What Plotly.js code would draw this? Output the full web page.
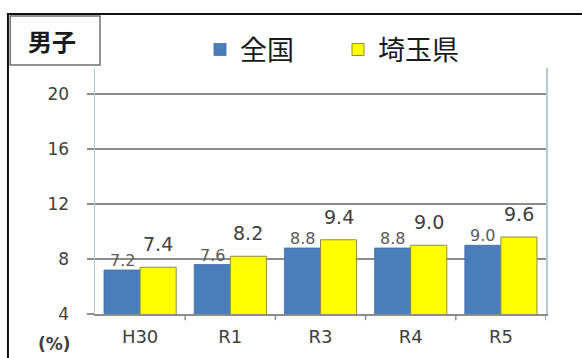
<!DOCTYPE html>
<html>
<head>
<meta charset="utf-8">
<script src="https://cdn.plot.ly/plotly-3.0.1.min.js"></script>
<style>html,body{margin:0;padding:0;background:#fff;}#chart{width:582px;height:358px;}</style>
</head>
<body>
<div id="chart"></div>
<script>
const categories = ['H30', 'R1', 'R3', 'R4', 'R5'];
const nationalName = '全国';
const saitamaName = '埼玉県';
const nationalValues = [7.2, 7.6, 8.8, 8.8, 9.0];
const saitamaValues = [7.4, 8.2, 9.4, 9.0, 9.6];
const yTicks = [4, 8, 12, 16, 20];
const panelTitle = '男子';
const unitLabel = '(%)';

const numFont = 'DejaVu Sans, Verdana, sans-serif';
const cjkFont = 'Noto Sans CJK JP, sans-serif';

const traces = [
  {type: 'bar', name: nationalName, x: categories.map((c, i) => i), y: nationalValues,
   marker: {color: '#4a7ebb', line: {color: '#3f6fa8', width: 0.8}}, hoverinfo: 'skip'},
  {type: 'bar', name: saitamaName, x: categories.map((c, i) => i), y: saitamaValues,
   marker: {color: '#ffff00', line: {color: '#8c8c40', width: 1}}, hoverinfo: 'skip'}
];

const annotations = [];
nationalValues.forEach((v, i) => {
  annotations.push({x: i - 0.2, y: v, xref: 'x', yref: 'y', text: v.toFixed(1), showarrow: false,
    yanchor: 'bottom', yshift: -2, font: {family: numFont, size: 16, color: '#595959'}});
});
saitamaValues.forEach((v, i) => {
  annotations.push({x: i + 0.2, y: v, xref: 'x', yref: 'y', text: v.toFixed(1), showarrow: false,
    yanchor: 'bottom', yshift: 10, font: {family: numFont, size: 19, color: '#404040'}});
});
annotations.push({xref: 'paper', yref: 'paper', x: -0.188, y: 1.11, xanchor: 'left', yanchor: 'middle',
  text: '<b>' + panelTitle + '</b>', showarrow: false, xshift: 16,
  font: {family: cjkFont, size: 24, color: '#1a1a1a'}});
annotations.push({xref: 'paper', yref: 'paper', x: 0, y: 0, xanchor: 'right', yanchor: 'top',
  text: '<b>' + unitLabel + '</b>', showarrow: false, xshift: -22, yshift: -18,
  font: {family: numFont, size: 17, color: '#404040'}});

const layout = {
  width: 582, height: 358,
  margin: {l: 95, r: 36, t: 68, b: 44, autoexpand: false},
  paper_bgcolor: '#ffffff', plot_bgcolor: '#ffffff',
  barmode: 'group', bargap: 0.2, bargroupgap: 0,
  showlegend: true,
  legend: {orientation: 'h', xref: 'container', yref: 'container', x: 200 / 582, y: 1 - 50 / 358,
    xanchor: 'left', yanchor: 'middle', entrywidth: 93,
    font: {family: cjkFont, size: 27, color: '#1a1a1a'}, traceorder: 'normal',
    bgcolor: 'rgba(0,0,0,0)'},
  xaxis: {
    type: 'linear', range: [-0.5, 4.5], tickvals: categories.map((c, i) => i), ticktext: categories,
    showgrid: false, zeroline: false, showline: true, linecolor: '#8c8c8c', linewidth: 1.5,
    ticks: '', tickfont: {family: numFont, size: 18, color: '#404040'}, ticklabelstandoff: 6,
    fixedrange: true
  },
  yaxis: {
    range: [4, 21.9], tickvals: yTicks, ticktext: yTicks.map(String),
    showgrid: true, gridcolor: '#8c8c8c', gridwidth: 1.5, zeroline: false,
    showline: true, linecolor: '#b8c8dc', linewidth: 1.5, mirror: true,
    ticks: 'outside', ticklen: 7, tickcolor: '#8c8c8c', tickwidth: 1.5,
    tickfont: {family: numFont, size: 17, color: '#404040'}, ticklabelstandoff: 14,
    fixedrange: true
  },
  shapes: [
    {type: 'rect', xref: 'paper', yref: 'paper', x0: -0.193, x1: 1.3, y0: -0.4, y1: 1.2195,
     line: {color: '#111111', width: 2}},
    {type: 'rect', xref: 'paper', yref: 'paper', x0: -0.188, x1: 0.011, y0: 1.012, y1: 1.211,
     line: {color: '#707070', width: 1.5}, fillcolor: '#ffffff', layer: 'below'},
    ...[0.5, 1.5, 2.5, 3.5, 4.5].map(b => ({type: 'line', xref: 'x', yref: 'paper', x0: b, x1: b,
      y0: 0, y1: -0.025, line: {color: '#8c8c8c', width: 1.5}}))
  ],
  annotations: annotations
};

Plotly.newPlot('chart', traces, layout, {displayModeBar: false, staticPlot: true});
</script>
</body>
</html>
